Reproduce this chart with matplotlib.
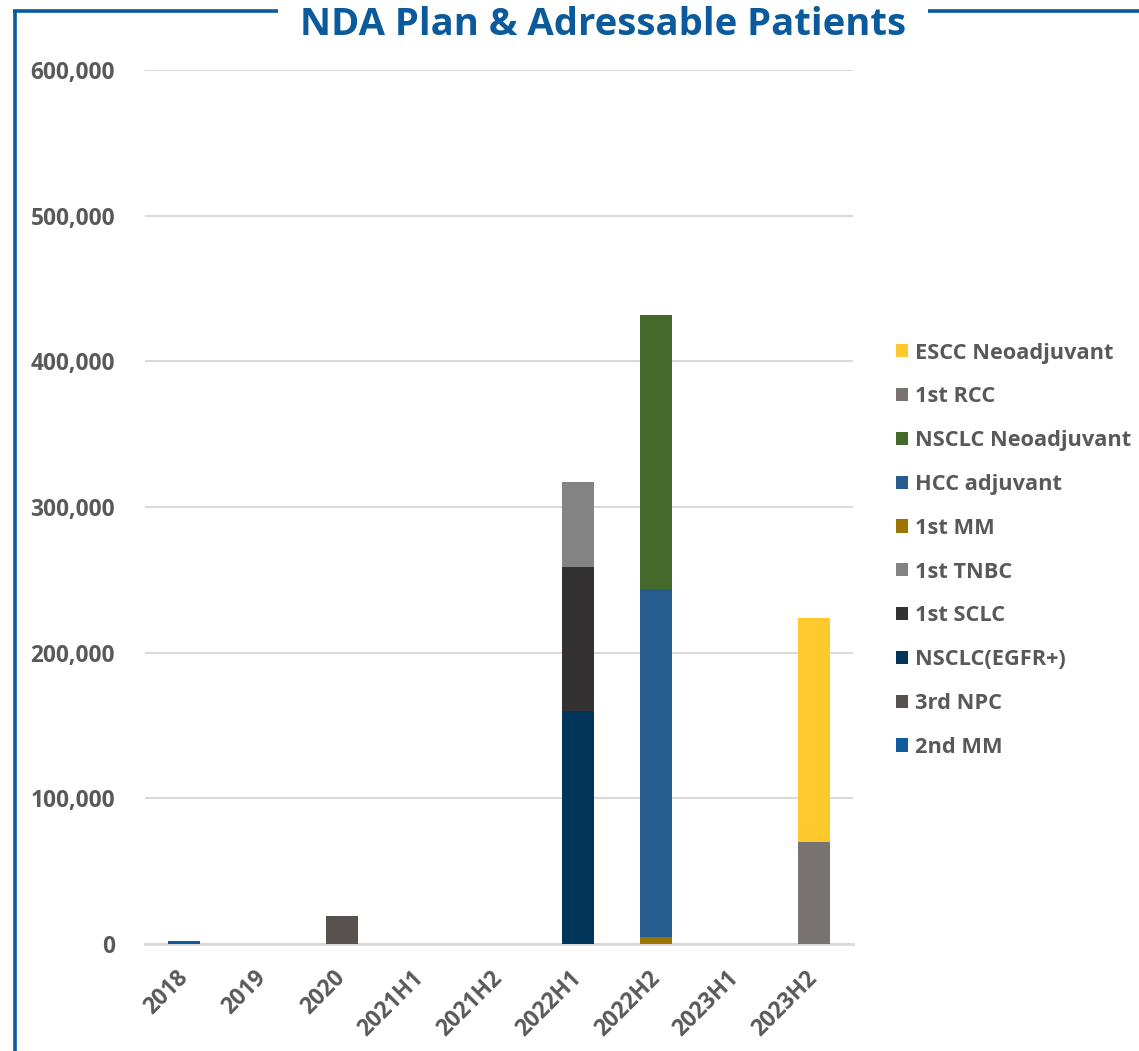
import matplotlib
matplotlib.use("Agg")
import matplotlib.pyplot as plt
from matplotlib.lines import Line2D
from matplotlib.patches import Patch
import numpy as np

plt.rcParams['font.family'] = ['Open Sans', 'DejaVu Sans']

categories = ['2018', '2019', '2020', '2021H1', '2021H2',
              '2022H1', '2022H2', '2023H1', '2023H2']

# stacked series, bottom to top
series_names = ['2nd MM', '3rd NPC', 'NSCLC(EGFR+)', '1st SCLC', '1st TNBC',
                '1st MM', 'HCC adjuvant', 'NSCLC Neoadjuvant', '1st RCC',
                'ESCC Neoadjuvant']
mm2 = [2000, 0, 0, 0, 0, 0, 0, 0, 0]
npc3 = [0, 0, 19000, 0, 0, 0, 0, 0, 0]
nsclc_egfr = [0, 0, 0, 0, 0, 160000, 0, 0, 0]
sclc1 = [0, 0, 0, 0, 0, 99000, 0, 0, 0]
tnbc1 = [0, 0, 0, 0, 0, 58000, 0, 0, 0]
mm1 = [0, 0, 0, 0, 0, 0, 5000, 0, 0]
hcc_adj = [0, 0, 0, 0, 0, 0, 239000, 0, 0]
nsclc_neo = [0, 0, 0, 0, 0, 0, 188000, 0, 0]
rcc1 = [0, 0, 0, 0, 0, 0, 0, 0, 70000]
escc_neo = [0, 0, 0, 0, 0, 0, 0, 0, 154000]

series_values = [mm2, npc3, nsclc_egfr, sclc1, tnbc1, mm1, hcc_adj,
                 nsclc_neo, rcc1, escc_neo]
series_colors = ['#0f5b9e', '#575250', '#02355a', '#333132', '#838383',
                 '#9c7500', '#275d8e', '#43692b', '#787272', '#ffc92e']

y_ticks = [0, 100000, 200000, 300000, 400000, 500000, 600000]

W, H = 1139, 1051
fig = plt.figure(figsize=(W / 100, H / 100), dpi=100)
ax = fig.add_axes([145 / W, 1 - 944 / H, (853 - 145) / W, (944 - 70) / H])

x = np.arange(len(categories))
bottom = np.zeros(len(categories))
for name, vals, col in zip(series_names, series_values, series_colors):
    v = np.array(vals, dtype=float)
    ax.bar(x, v, width=0.41, bottom=bottom, color=col, zorder=3, label=name)
    bottom += v

ax.set_xlim(-0.5, len(categories) - 0.5)
ax.set_ylim(0, 600000)
ax.set_yticks(y_ticks)
ax.set_yticklabels([f'{t:,}' for t in y_ticks])
ax.yaxis.grid(True, color='#d9d9d9', linewidth=1.5, zorder=0)
ax.set_axisbelow(True)
for s in ['top', 'right', 'left']:
    ax.spines[s].set_visible(False)
ax.spines['bottom'].set_color('#d9d9d9')
ax.spines['bottom'].set_linewidth(2)
ax.tick_params(axis='both', length=0, colors='#595959', labelsize=16.3)
ax.tick_params(axis='y', pad=21.5)
ax.set_xticks(x)
ax.set_xticklabels(categories, rotation=45, ha='right', va='center',
                   rotation_mode='anchor', fontweight='bold')
ax.tick_params(axis='x', pad=22)
for lbl in ax.get_yticklabels():
    lbl.set_fontweight('bold')

# legend, top entry = last stacked series
handles = [Patch(facecolor=c) for c in series_colors][::-1]
labels = series_names[::-1]
leg = fig.legend(handles, labels, loc='upper left',
                 bbox_to_anchor=(876 / W, 1 - 323 / H),
                 frameon=False, handlelength=0.55, handleheight=0.55,
                 handletextpad=0.35, labelspacing=1.045,
                 prop={'family': 'Open Sans', 'weight': 'bold', 'size': 15.7},
                 labelcolor='#595959')

# title and frame
blue = '#0a5a9c'
fig.text(603.5 / W, 1 - 25 / H, 'NDA Plan & Adressable Patients',
         ha='center', va='center', color=blue, fontsize=27.5,
         fontweight='bold')
lw = 2.6
fig.add_artist(Line2D([13 / W, 278 / W], [1 - 11 / H, 1 - 11 / H],
                      color=blue, linewidth=lw, transform=fig.transFigure,
                      solid_capstyle='butt'))
fig.add_artist(Line2D([14.5 / W, 14.5 / W], [1 - 10 / H, 0],
                      color=blue, linewidth=lw, transform=fig.transFigure,
                      solid_capstyle='butt'))
fig.add_artist(Line2D([928 / W, 1], [1 - 11 / H, 1 - 11 / H],
                      color=blue, linewidth=lw, transform=fig.transFigure,
                      solid_capstyle='butt'))

fig.savefig('out.png', dpi=100, facecolor='white')
